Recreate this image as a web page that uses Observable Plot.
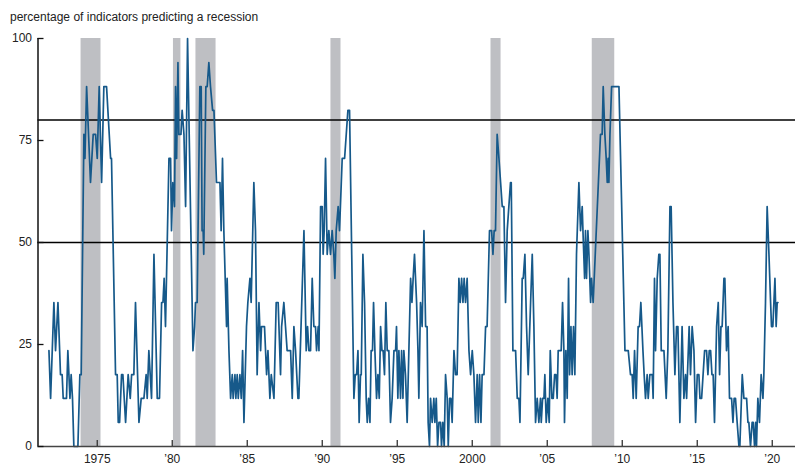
<!DOCTYPE html>
<html><head><meta charset="utf-8">
<script src="https://cdn.jsdelivr.net/npm/d3@7"></script>
<script src="https://cdn.jsdelivr.net/npm/@observablehq/plot@0.6"></script>
<style>
body{margin:0;background:#fff;font-family:"Liberation Sans",Arial,sans-serif;}
#title{height:28px;box-sizing:border-box;padding:10px 0 0 10px;font-size:12px;line-height:14px;color:#222;}
</style></head><body>
<div id="title">percentage of indicators predicting a recession</div>
<div id="chart"></div>
<script>
const dates = [
1971.78,1971.89,1972.11,1972.22,1972.38,1972.55,1972.66,1972.73,1972.95,1973.04,1973.18,1973.26,1973.35,1973.44,1973.71,1973.84,1973.93,
1974.11,1974.18,1974.29,1974.55,1974.73,1974.89,1975.0,1975.13,1975.29,1975.44,1975.62,1975.89,1975.95,1976.22,1976.33,1976.40,1976.49,
1976.62,1976.71,1976.89,1977.06,1977.20,1977.29,1977.44,1977.55,1977.78,1977.93,1978.11,1978.26,1978.33,1978.44,1978.62,1978.78,1979.0,
1979.15,1979.29,1979.38,1979.46,1979.55,1979.78,1979.89,1979.95,1980.04,1980.15,1980.22,1980.29,1980.38,1980.44,1980.58,1980.66,1980.78,
1980.89,1981.02,1981.38,1981.49,1981.55,1981.66,1981.84,1981.93,1981.99,1982.06,1982.10,1982.24,1982.33,1982.44,1982.55,1982.69,1982.78,
1982.95,1983.18,1983.26,1983.35,1983.44,1983.62,1983.66,1983.78,1983.89,1984.0,1984.06,1984.18,1984.24,1984.33,1984.40,1984.51,1984.60,
1984.69,1984.78,1984.95,1985.04,1985.18,1985.26,1985.44,1985.55,1985.66,1985.78,1985.89,1985.95,1986.15,1986.29,1986.38,1986.51,1986.60,
1986.78,1986.93,1987.06,1987.22,1987.29,1987.44,1987.55,1987.66,1987.89,1988.0,1988.11,1988.22,1988.38,1988.44,1988.78,1988.93,1989.02,
1989.11,1989.22,1989.33,1989.44,1989.55,1989.62,1989.73,1989.78,1989.89,1990.0,1990.06,1990.13,1990.22,1990.33,1990.44,1990.55,1990.66,
1990.77,1990.84,1990.93,1991.06,1991.15,1991.33,1991.49,1991.71,1991.82,1992.11,1992.20,1992.29,1992.38,1992.46,1992.55,1992.60,1992.71,
1992.82,1992.93,1993.0,1993.09,1993.18,1993.26,1993.35,1993.42,1993.51,1993.62,1993.71,1993.80,1993.89,1993.98,1994.06,1994.15,1994.24,
1994.33,1994.44,1994.55,1994.66,1994.78,1994.89,1994.95,1995.04,1995.11,1995.22,1995.29,1995.38,1995.44,1995.55,1995.66,1995.89,1995.98,
1996.06,1996.15,1996.29,1996.38,1996.44,1996.55,1996.66,1996.78,1996.89,1996.99,1997.06,1997.15,1997.22,1997.33,1997.44,1997.51,1997.60,
1997.69,1997.78,1997.89,1997.95,1998.04,1998.13,1998.22,1998.33,1998.40,1998.49,1998.58,1998.66,1998.78,1998.89,1998.99,1999.11,1999.20,
1999.29,1999.38,1999.46,1999.55,1999.66,1999.78,1999.89,2000.0,2000.11,2000.22,2000.33,2000.40,2000.49,2000.58,2000.66,2000.78,2000.89,
2000.99,2001.15,2001.29,2001.38,2001.46,2001.55,2001.66,2001.78,2001.89,2002.0,2002.11,2002.22,2002.33,2002.44,2002.55,2002.60,2002.71,
2002.89,2003.0,2003.11,2003.18,2003.33,2003.40,2003.51,2003.62,2003.73,2003.89,2004.0,2004.11,2004.22,2004.33,2004.44,2004.55,2004.60,
2004.69,2004.78,2004.84,2004.93,2005.04,2005.13,2005.20,2005.31,2005.40,2005.49,2005.58,2005.66,2005.73,2005.82,2005.93,2006.02,2006.11,
2006.15,2006.24,2006.33,2006.42,2006.49,2006.58,2006.66,2006.75,2006.84,2006.95,2007.11,2007.22,2007.33,2007.38,2007.49,2007.55,2007.62,
2007.71,2007.78,2007.89,2007.95,2008.06,2008.55,2008.66,2008.73,2008.84,2008.93,2009.0,2009.06,2009.11,2009.18,2009.29,2009.78,2010.18,
2010.40,2010.55,2010.66,2010.73,2010.82,2010.93,2011.06,2011.15,2011.24,2011.38,2011.46,2011.55,2011.66,2011.73,2011.84,2012.0,2012.06,
2012.15,2012.22,2012.33,2012.44,2012.51,2012.60,2012.78,2012.93,2013.04,2013.18,2013.26,2013.38,2013.51,2013.62,2013.71,2013.84,2013.99,
2014.11,2014.22,2014.29,2014.46,2014.55,2014.66,2014.78,2014.89,2015.0,2015.11,2015.18,2015.29,2015.49,2015.62,2015.71,2015.80,2015.89,
2015.98,2016.06,2016.15,2016.29,2016.40,2016.49,2016.58,2016.66,2016.78,2016.84,2016.95,2017.06,2017.15,2017.29,2017.38,2017.46,2017.55,
2017.66,2017.78,2017.84,2018.0,2018.11,2018.29,2018.38,2018.44,2018.55,2018.66,2018.73,2018.82,2018.89,2018.95,2019.04,2019.15,2019.26,
2019.38,2019.44,2019.55,2019.66,2019.78,2019.89,2019.95,2020.04,2020.18,2020.26,2020.33,2020.38
];
const pct = [
23.5,11.8,35.3,23.5,35.3,17.6,17.6,11.8,11.8,23.5,11.8,17.6,11.8,0,0,17.6,17.6,
76.5,70.6,88.2,64.7,76.5,76.5,70.6,88.2,64.7,88.2,88.2,70.6,70.6,17.6,17.6,5.9,5.9,
17.6,17.6,5.9,17.6,11.8,17.6,17.6,35.3,5.9,11.8,11.8,17.6,11.8,23.5,11.8,47.1,11.8,
11.8,35.3,35.3,41.2,29.4,70.6,70.6,52.9,64.7,58.8,88.2,70.6,94.1,76.5,76.5,82.4,76.5,
58.8,100,23.5,29.4,35.3,35.3,88.2,88.2,52.9,52.9,47.1,88.2,88.2,94.1,88.2,82.4,82.4,
64.7,64.7,52.9,70.6,52.9,29.4,41.2,23.5,11.8,17.6,11.8,17.6,11.8,17.6,11.8,17.6,11.8,
23.5,5.9,29.4,35.3,41.2,35.3,64.7,52.9,17.6,35.3,23.5,29.4,29.4,17.6,23.5,11.8,17.6,
11.8,35.3,35.3,17.6,29.4,35.3,29.4,23.5,23.5,11.8,29.4,23.5,11.8,11.8,52.9,23.5,29.4,
23.5,23.5,41.2,29.4,29.4,23.5,29.4,23.5,58.8,58.8,47.1,52.9,70.6,47.1,52.9,47.1,52.9,
47.1,41.2,52.9,58.8,52.9,70.6,70.6,82.4,82.4,11.8,17.6,17.6,23.5,5.9,17.6,17.6,47.1,
35.3,11.8,5.9,11.8,5.9,23.5,23.5,35.3,23.5,11.8,17.6,11.8,29.4,23.5,23.5,17.6,35.3,
23.5,23.5,5.9,11.8,23.5,23.5,29.4,11.8,23.5,11.8,23.5,11.8,23.5,17.6,5.9,41.2,35.3,
41.2,47.1,35.3,23.5,11.8,35.3,29.4,52.9,29.4,29.4,5.9,0,11.8,5.9,11.8,5.9,11.8,
0,5.9,5.9,0,5.9,0,17.6,11.8,0,11.8,11.8,5.9,23.5,17.6,17.6,41.2,35.3,
41.2,35.3,41.2,35.3,41.2,23.5,17.6,23.5,17.6,5.9,17.6,5.9,17.6,5.9,17.6,17.6,29.4,
29.4,52.9,52.9,47.1,52.9,52.9,76.5,70.6,64.7,58.8,58.8,35.3,52.9,58.8,64.7,64.7,23.5,
23.5,11.8,11.8,5.9,41.2,41.2,47.1,29.4,17.6,35.3,47.1,29.4,5.9,11.8,5.9,11.8,5.9,
11.8,11.8,17.6,5.9,11.8,5.9,23.5,11.8,11.8,17.6,17.6,11.8,23.5,23.5,23.5,35.3,23.5,
5.9,23.5,11.8,41.2,17.6,29.4,17.6,29.4,17.6,47.1,64.7,52.9,58.8,52.9,41.2,52.9,41.2,
52.9,47.1,35.3,41.2,35.3,76.5,76.5,88.2,76.5,70.6,64.7,70.6,64.7,76.5,88.2,88.2,23.5,
23.5,17.6,17.6,11.8,23.5,11.8,29.4,29.4,35.3,23.5,17.6,11.8,17.6,11.8,17.6,17.6,11.8,
41.2,23.5,41.2,47.1,47.1,23.5,23.5,11.8,23.5,58.8,58.8,35.3,17.6,29.4,29.4,5.9,29.4,
11.8,17.6,11.8,29.4,17.6,29.4,23.5,5.9,17.6,17.6,11.8,11.8,23.5,23.5,17.6,23.5,23.5,
17.6,17.6,5.9,29.4,35.3,17.6,29.4,29.4,41.2,41.2,23.5,29.4,11.8,11.8,5.9,11.8,11.8,
5.9,0,0,17.6,11.8,11.8,5.9,5.9,0,5.9,5.9,0,5.9,0,11.8,5.9,17.6,
11.8,17.6,35.3,58.8,47.1,35.3,29.4,29.4,41.2,29.4,35.3,35.3
];
const recessionStart = [1973.92, 1980.08, 1981.58, 1990.58, 2001.25, 2008.0];
const recessionEnd   = [1975.25, 1980.58, 1982.92, 1991.25, 2001.92, 2009.5];
const thresholds = [80, 50];
const yTicks = [0, 25, 50, 75, 100];
const xTicks = [1975, 1980, 1985, 1990, 1995, 2000, 2005, 2010, 2015, 2020];
const xTickLabels = ["1975", "’80", "’85", "’90", "’95", "2000", "’05", "’10", "’15", "’20"];
const xDomain = [1971.05, 2021.55];

const series = dates.map((d, i) => ({date: d, value: pct[i]}));
const recessions = recessionStart.map((s, i) => ({start: s, end: recessionEnd[i]}));

const chart = Plot.plot({
  width: 800,
  height: 447,
  marginTop: 10,
  marginBottom: 29,
  marginLeft: 37.5,
  marginRight: 5,
  x: {domain: xDomain},
  y: {domain: [0, 100]},
  style: {fontFamily: "Liberation Sans, Arial, sans-serif", fontSize: "12px", color: "#222", background: "#fff"},
  marks: [
    Plot.rect(recessions, {x1: "start", x2: "end", fill: "#bebfc3"}),
    Plot.ruleY(thresholds, {stroke: "#000", strokeWidth: 1.5}),
    Plot.line(series, {x: "date", y: "value", stroke: "#16598a", strokeWidth: 1.7}),
    Plot.ruleX([xDomain[0]], {stroke: "#111", strokeWidth: 1.5}),
    Plot.ruleY([0], {stroke: "#444", strokeWidth: 1.5}),
    Plot.axisY({ticks: yTicks, tickSize: -6, tickPadding: 12, label: null, stroke: "#111", strokeWidth: 1.3}),
    Plot.axisX({ticks: xTicks, tickFormat: d => xTickLabels[xTicks.indexOf(d)], tickSize: -6, tickPadding: 14, label: null, stroke: "#333", strokeWidth: 1.3})
  ]
});
document.getElementById("chart").appendChild(chart);
</script>
</body></html>
